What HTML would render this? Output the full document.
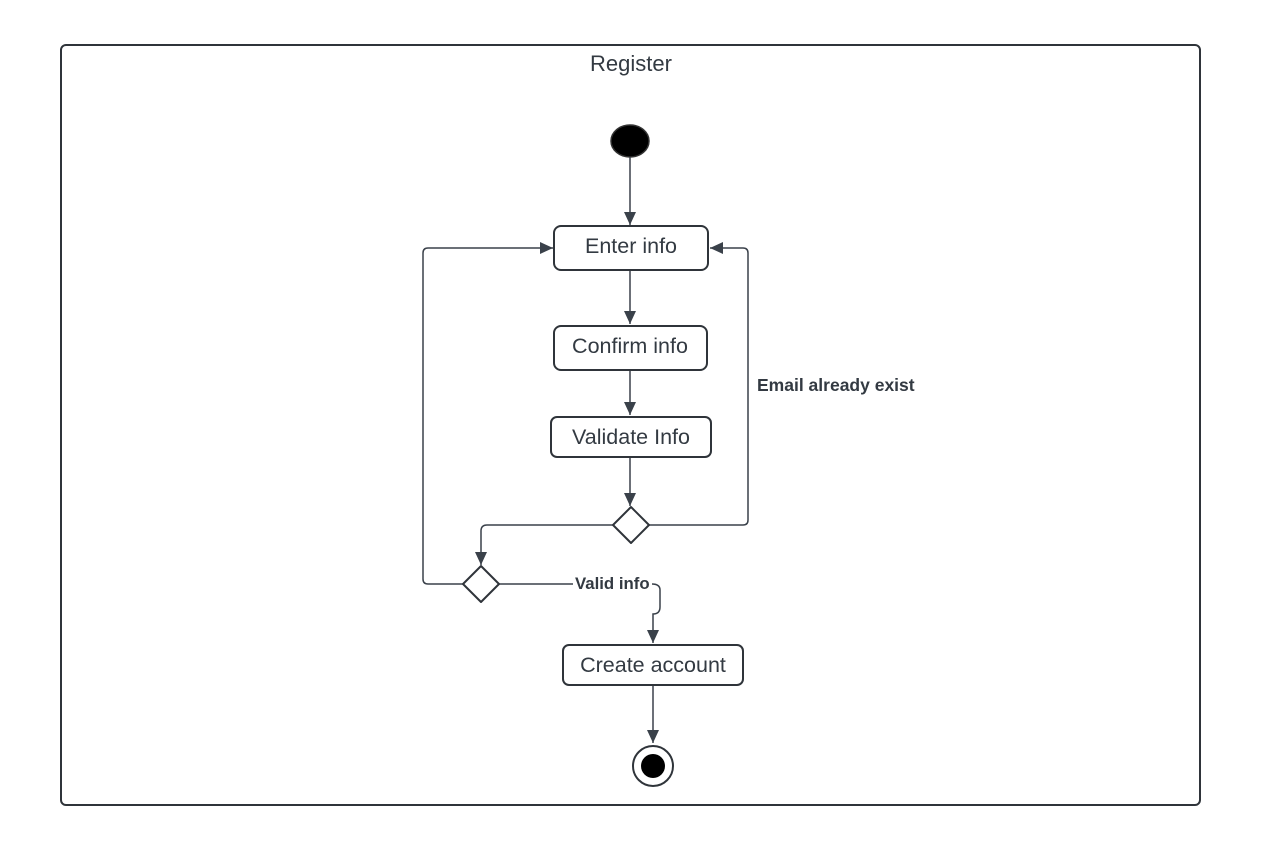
<!DOCTYPE html>
<html><head><style>html,body{margin:0;padding:0;background:#fff}svg{display:block}</style></head>
<body>
<svg width="1262" height="867" viewBox="0 0 1262 867" xmlns="http://www.w3.org/2000/svg" font-family="Liberation Sans, sans-serif">
<defs><marker id="a" markerWidth="14" markerHeight="14" refX="13" refY="6" orient="auto" markerUnits="userSpaceOnUse"><path d="M0,0 L13,6 L0,12 Z" fill="#3a414a"/></marker></defs>
<rect x="61" y="45" width="1139" height="760" rx="5" fill="#fff" stroke="#2f343a" stroke-width="2"/>
<text x="631" y="71" font-size="22" text-anchor="middle" fill="#333a42">Register</text>
<ellipse cx="630" cy="141" rx="19" ry="16" fill="#000" stroke="#333" stroke-width="1.5"/>
<g stroke="#3a414a" stroke-width="1.5" fill="none">
<line x1="630" y1="157" x2="630" y2="225" marker-end="url(#a)"/>
<line x1="630" y1="271" x2="630" y2="324" marker-end="url(#a)"/>
<line x1="630" y1="371" x2="630" y2="415" marker-end="url(#a)"/>
<line x1="630" y1="458" x2="630" y2="506" marker-end="url(#a)"/>
<path d="M613,525 H487 Q481,525 481,531 V565" marker-end="url(#a)"/>
<path d="M649,525 H743 Q748,525 748,520 V253 Q748,248 743,248 H710" marker-end="url(#a)"/>
<path d="M463,584 H428 Q423,584 423,579 V253 Q423,248 428,248 H553" marker-end="url(#a)"/>
<path d="M499,584 H573"/>
<path d="M652,584 Q660,584 660,590 V607 Q660,614 653,614 V643" marker-end="url(#a)"/>
<line x1="653" y1="686" x2="653" y2="743" marker-end="url(#a)"/>
</g>
<g fill="#fff" stroke="#2f343a" stroke-width="2">
<rect x="554" y="226" width="154" height="44" rx="7"/>
<rect x="554" y="326" width="153" height="44" rx="7"/>
<rect x="551" y="417" width="160" height="40" rx="6"/>
<rect x="563" y="645" width="180" height="40" rx="6"/>
<path d="M631,507 L649,525 L631,543 L613,525 Z" stroke-linejoin="round"/>
<path d="M481,566 L499,584 L481,602 L463,584 Z" stroke-linejoin="round"/>
</g>
<g font-size="21.5" fill="#333a42" text-anchor="middle">
<text x="631" y="253">Enter info</text>
<text x="630" y="353">Confirm info</text>
<text x="631" y="444">Validate Info</text>
<text x="653" y="672">Create account</text>
</g>
<text x="757" y="391" font-size="17.5" font-weight="bold" fill="#333a42">Email already exist</text>
<text x="575" y="589" font-size="16.8" font-weight="bold" fill="#333a42">Valid info</text>
<circle cx="653" cy="766" r="20" fill="#fff" stroke="#2f343a" stroke-width="2"/>
<circle cx="653" cy="766" r="12" fill="#000"/>
</svg>
</body></html>
